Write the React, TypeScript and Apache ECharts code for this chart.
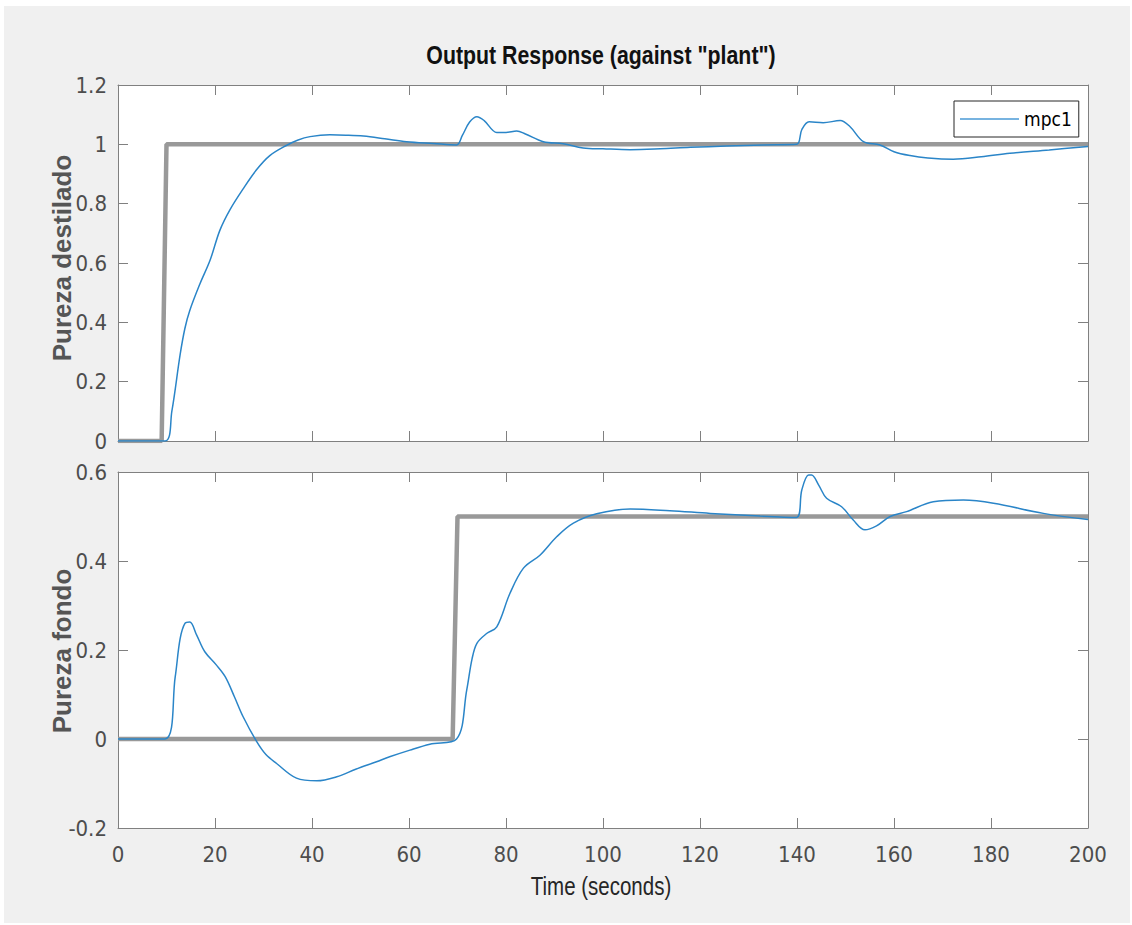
import React, { useEffect, useRef } from "react";
import * as echarts from "echarts";

// ---- data ----
const topTime = [0, 9.7, 11.1, 12.8, 13.8, 14.8, 16.9, 19, 21, 23.1, 25.8, 28.6, 31.3, 34.8, 37, 39.6, 43.7, 47, 50.6, 55, 59.5, 65, 69.8, 71, 72.5, 74, 75.5, 78.1, 80, 82.2, 84, 87.7, 91.8, 95.9, 100, 105.6, 111.8, 118, 125.5, 133, 139.9, 141, 142.5, 145.4, 148.9, 150.9, 153.7, 157.1, 160, 163.3, 167, 172.2, 178, 183.9, 192, 200];
const topValue = [0, 0, 0.1, 0.29, 0.38, 0.44, 0.53, 0.61, 0.71, 0.78, 0.85, 0.915, 0.962, 0.997, 1.014, 1.026, 1.032, 1.031, 1.028, 1.019, 1.009, 1.003, 0.998, 1.03, 1.075, 1.093, 1.08, 1.04, 1.04, 1.045, 1.035, 1.009, 1.002, 0.988, 0.985, 0.982, 0.985, 0.99, 0.994, 0.998, 1.0, 1.05, 1.076, 1.073, 1.08, 1.06, 1.009, 0.998, 0.975, 0.962, 0.954, 0.95, 0.958, 0.97, 0.981, 0.993];

const bottomTime = [0, 9.7, 11.8, 12.8, 13.8, 14.8, 16.2, 17.9, 20.3, 22.1, 24, 25.8, 28.6, 30.5, 32.7, 36.8, 41, 45.1, 49, 53.3, 56, 60.2, 64.3, 69.8, 71.9, 73, 74, 76, 78.1, 80.8, 83.6, 87, 90.5, 93.9, 98.7, 105.6, 113.8, 122.1, 132.4, 139.9, 141, 142.4, 143, 144.5, 146.1, 149.2, 151.6, 154, 156.4, 159.2, 162.6, 168.1, 174.3, 180.5, 190.8, 200];
const bottomValue = [0, 0, 0.14, 0.225, 0.26, 0.263, 0.234, 0.196, 0.166, 0.14, 0.095, 0.05, -0.006, -0.035, -0.055, -0.088, -0.094, -0.085, -0.068, -0.051, -0.04, -0.025, -0.012, 0, 0.11, 0.18, 0.215, 0.237, 0.252, 0.327, 0.384, 0.413, 0.455, 0.485, 0.506, 0.517, 0.513, 0.507, 0.501, 0.498, 0.56, 0.593, 0.593, 0.57, 0.541, 0.522, 0.492, 0.47, 0.479, 0.5, 0.511, 0.533, 0.537, 0.53, 0.507, 0.493];

const refTopTime = [0, 9, 10, 200];
const refTopValue = [0, 0, 1, 1];
const refBottomTime = [0, 69, 70, 200];
const refBottomValue = [0, 0, 0.5, 0.5];

const xTicks = { min: 0, max: 200, interval: 20 };
const topTicks = { min: 0, max: 1.2, interval: 0.2 };
const bottomTicks = { min: -0.2, max: 0.6, interval: 0.2 };

const seriesName = "mpc1";
const titleText = 'Output Response (against "plant")';
const topYName = "Pureza destilado";
const bottomYName = "Pureza fondo";
const xName = "Time (seconds)";

const pairs = (t: number[], v: number[]) => t.map((x, i) => [x, v[i]]);

const NARROW = "'DejaVu Sans Condensed', 'Liberation Sans Narrow', 'Liberation Sans', sans-serif";
const REGULAR = "'Liberation Sans', Arial, sans-serif";
const AXIS = "#808080";
const LABEL = "#4d4d4d";
const BLUE = "#2a85c8";
const GRAY = "#999999";

export default function App() {
  const ref = useRef<HTMLDivElement>(null);
  useEffect(() => {
    if (!ref.current) return;
    const chart = echarts.init(ref.current, undefined, { renderer: "svg" });
    const tick = { show: true, inside: true, length: 10, lineStyle: { color: AXIS, width: 1 } };
    const line = { show: true, onZero: false, lineStyle: { color: AXIS, width: 1 } };
    const label = { color: LABEL, fontSize: 22, fontFamily: NARROW };
    const xAx = (gridIndex: number, position: string, showLabel: boolean) => ({
      type: "value", gridIndex, position, ...xTicks,
      axisLine: line, axisTick: tick, splitLine: { show: false },
      axisLabel: { ...label, show: showLabel, margin: 15 },
    });
    const yAx = (gridIndex: number, position: string, showLabel: boolean, ticks: any) => ({
      type: "value", gridIndex, position, ...ticks,
      axisLine: line, axisTick: tick, splitLine: { show: false },
      axisLabel: { ...label, show: showLabel, margin: 11 },
    });
    chart.setOption({
      animation: false,
      backgroundColor: "transparent",
      grid: [
        { left: 118, top: 85, width: 970, height: 356, show: true, backgroundColor: "#fff", borderWidth: 0 },
        { left: 118, top: 472, width: 970, height: 356, show: true, backgroundColor: "#fff", borderWidth: 0 },
      ],
      xAxis: [xAx(0, "bottom", false), xAx(0, "top", false), xAx(1, "bottom", true), xAx(1, "top", false)],
      yAxis: [yAx(0, "left", true, topTicks), yAx(0, "right", false, topTicks), yAx(1, "left", true, bottomTicks), yAx(1, "right", false, bottomTicks)],
      legend: {
        data: [{ name: seriesName, icon: "rect" }], left: 954, top: 101, padding: [8, 7, 8, 6],
        itemWidth: 59, itemHeight: 1.5, borderColor: "#262626", borderWidth: 1,
        backgroundColor: "#fff", borderRadius: 0,
        itemStyle: { color: "#4a9ad6" },
        textStyle: { fontSize: 19, fontFamily: NARROW, color: "#000", lineHeight: 20 },
      },
      series: [
        { name: "plant", type: "line", xAxisIndex: 0, yAxisIndex: 0, data: pairs(refTopTime, refTopValue), symbol: "none", lineStyle: { color: GRAY, width: 4.5 }, itemStyle: { color: GRAY } },
        { name: "plant", type: "line", xAxisIndex: 2, yAxisIndex: 2, data: pairs(refBottomTime, refBottomValue), symbol: "none", lineStyle: { color: GRAY, width: 4.5 }, itemStyle: { color: GRAY } },
        { name: seriesName, type: "line", xAxisIndex: 0, yAxisIndex: 0, data: pairs(topTime, topValue), symbol: "none", smooth: 0.35, lineStyle: { color: BLUE, width: 1.5 }, itemStyle: { color: BLUE } },
        { name: seriesName, type: "line", xAxisIndex: 2, yAxisIndex: 2, data: pairs(bottomTime, bottomValue), symbol: "none", smooth: 0.35, lineStyle: { color: BLUE, width: 1.5 }, itemStyle: { color: BLUE } },
      ],
      graphic: [
        { type: "text", x: 601, y: 55, scaleX: 0.82, style: { text: titleText, align: "center", verticalAlign: "middle", fontSize: 26, fontWeight: "bold", fontFamily: REGULAR, fill: "#111" } },
        { type: "text", x: 62, y: 258, rotation: Math.PI / 2, style: { text: topYName, align: "center", verticalAlign: "middle", fontSize: 26, fontWeight: "bold", fontFamily: REGULAR, fill: "#555" } },
        { type: "text", x: 62, y: 651, rotation: Math.PI / 2, style: { text: bottomYName, align: "center", verticalAlign: "middle", fontSize: 26, fontWeight: "bold", fontFamily: REGULAR, fill: "#555" } },
        { type: "text", x: 601, y: 886, scaleX: 0.82, style: { text: xName, align: "center", verticalAlign: "middle", fontSize: 25, fontFamily: REGULAR, fill: "#262626" } },
      ],
    });
    return () => chart.dispose();
  }, []);
  return (
    <div style={{ position: "absolute", left: 0, top: 0, width: 1132, height: 925, background: "#fff" }}>
      <div style={{ position: "absolute", left: 4, top: 6, width: 1126, height: 917, background: "#f0f0f0" }} />
      <div ref={ref} style={{ position: "absolute", left: 0, top: 0, width: 1132, height: 925 }} />
    </div>
  );
}
